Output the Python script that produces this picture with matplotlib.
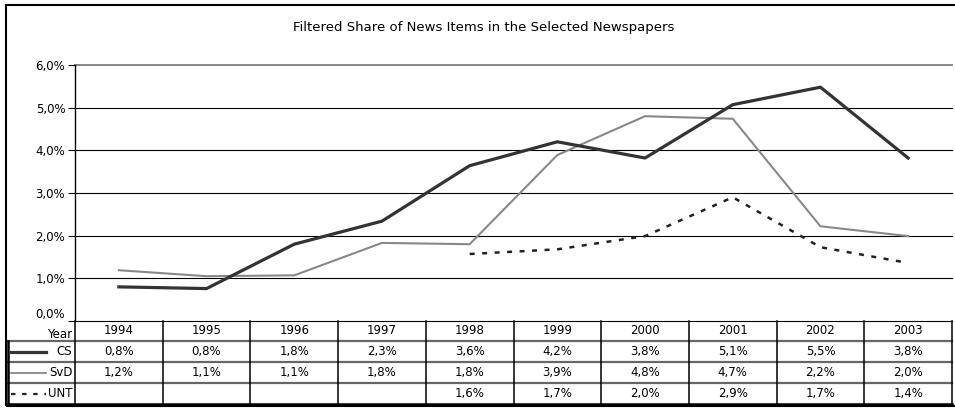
import numpy as np
import matplotlib.pyplot as plt

years = ['1994', '1995', '1996', '1997', '1998', '1999', '2000', '2001', '2002', '2003']
cs = [0.80, 0.76, 1.80, 2.34, 3.64, 4.20, 3.82, 5.07, 5.48, 3.82]
svd = [1.19, 1.05, 1.07, 1.83, 1.80, 3.89, 4.80, 4.74, 2.22, 1.99]
unt = [np.nan, np.nan, np.nan, np.nan, 1.57, 1.68, 1.99, 2.90, 1.73, 1.36]

cs_labels = ['0,8%', '0,8%', '1,8%', '2,3%', '3,6%', '4,2%', '3,8%', '5,1%', '5,5%', '3,8%']
svd_labels = ['1,2%', '1,1%', '1,1%', '1,8%', '1,8%', '3,9%', '4,8%', '4,7%', '2,2%', '2,0%']
unt_labels = ['', '', '', '', '1,6%', '1,7%', '2,0%', '2,9%', '1,7%', '1,4%']
y_ticks = [0, 1, 2, 3, 4, 5, 6]
y_tick_labels = ['0,0%', '1,0%', '2,0%', '3,0%', '4,0%', '5,0%', '6,0%']

plt.rcParams['font.family'] = ['DejaVu Sans']
W, H = 955, 409
fig = plt.figure(figsize=(W / 100, H / 100), dpi=100)

def fx(px):
    return px / W

def fy(py):
    return 1 - py / H

# outer frame (right edge runs off the picture)
fig.add_artist(plt.Rectangle((fx(6), fy(406)), fx(990) - fx(6), fy(5) - fy(406),
                             transform=fig.transFigure, fill=False, lw=1.5, ec='black'))
fig.text(fx(484), fy(27), 'Filtered Share of News Items in the Selected Newspapers',
         ha='center', va='center', fontsize=9.5)

x = np.arange(len(years))
ax = fig.add_axes([fx(75), fy(321), fx(952) - fx(75), fy(65) - fy(321)])
ax.set_xlim(-0.5, len(years) - 0.5)
ax.set_ylim(0, 6)
for t in y_ticks:
    ax.axhline(t, color='#888888' if t == 6 else 'black', lw=1.4 if t == 6 else 0.8,
               zorder=1, clip_on=False)
ax.plot(x, svd, color='#888888', lw=1.5, zorder=3)
ax.plot(x, unt, color='#222222', lw=1.8, ls=(0, (2, 3)), zorder=3)
ax.plot(x, cs, color='#333333', lw=2.3, zorder=4)
ax.set_yticks(y_ticks)
ax.set_yticklabels(y_tick_labels, fontsize=8.5)
ax.get_yticklabels()[0].set_verticalalignment('bottom')
ax.set_xticks([])
ax.tick_params(axis='y', length=5, width=0.8, pad=2)
for s in ['top', 'right', 'bottom']:
    ax.spines[s].set_visible(False)
ax.spines['left'].set_linewidth(1.0)

# data table
rows_top = [321, 341, 362, 383, 404]
tab = fig.add_axes([fx(75), fy(404), fx(952) - fx(75), fy(321) - fy(404)])
tab.set_xlim(-0.5, len(years) - 0.5)
tab.set_ylim(404, 321)
tab.axis('off')
left = -0.5 - (75 - 8) / ((952 - 75) / len(years))

for r in rows_top[1:-1]:
    tab.plot([left, len(years) - 0.5], [r, r], color='#666666', lw=1.6, clip_on=False)
tab.plot([left, len(years) - 0.5], [404, 404], color='black', lw=1.8, clip_on=False)
tab.plot([left, left], [341, 404], color='black', lw=1.8, clip_on=False)
for i in range(len(years)):
    tab.plot([i - 0.5, i - 0.5], [321, 404], color='black', lw=1.1, clip_on=False)
tab.plot([len(years) - 0.5] * 2, [321, 404], color='black', lw=1.1, clip_on=False)

tab.text(-0.53, 334.5, 'Year', ha='right', va='center', fontsize=8.5)
for i, yr in enumerate(years):
    tab.text(i, 331, yr, ha='center', va='center', fontsize=8.5)
for row_labels, yc in [(cs_labels, 351.5), (svd_labels, 372.5), (unt_labels, 393.5)]:
    for i, lab in enumerate(row_labels):
        tab.text(i, yc, lab, ha='center', va='center', fontsize=8.5)

key_x0 = left + 0.03
key_x1 = -0.5 - 0.33
tab.plot([key_x0, key_x1], [351.5, 351.5], color='#333333', lw=2.3, clip_on=False)
tab.plot([key_x0, key_x1], [372.5, 372.5], color='#888888', lw=1.3, clip_on=False)
tab.plot([key_x0, key_x1], [393.5, 393.5], color='#222222', lw=1.6, ls=(0, (2, 3)), clip_on=False)
tab.text(-0.53, 351.5, 'CS', ha='right', va='center', fontsize=8.5)
tab.text(-0.53, 372.5, 'SvD', ha='right', va='center', fontsize=8.5)
tab.text(-0.53, 393.5, 'UNT', ha='right', va='center', fontsize=8.5)

fig.savefig('out.png', dpi=100)
